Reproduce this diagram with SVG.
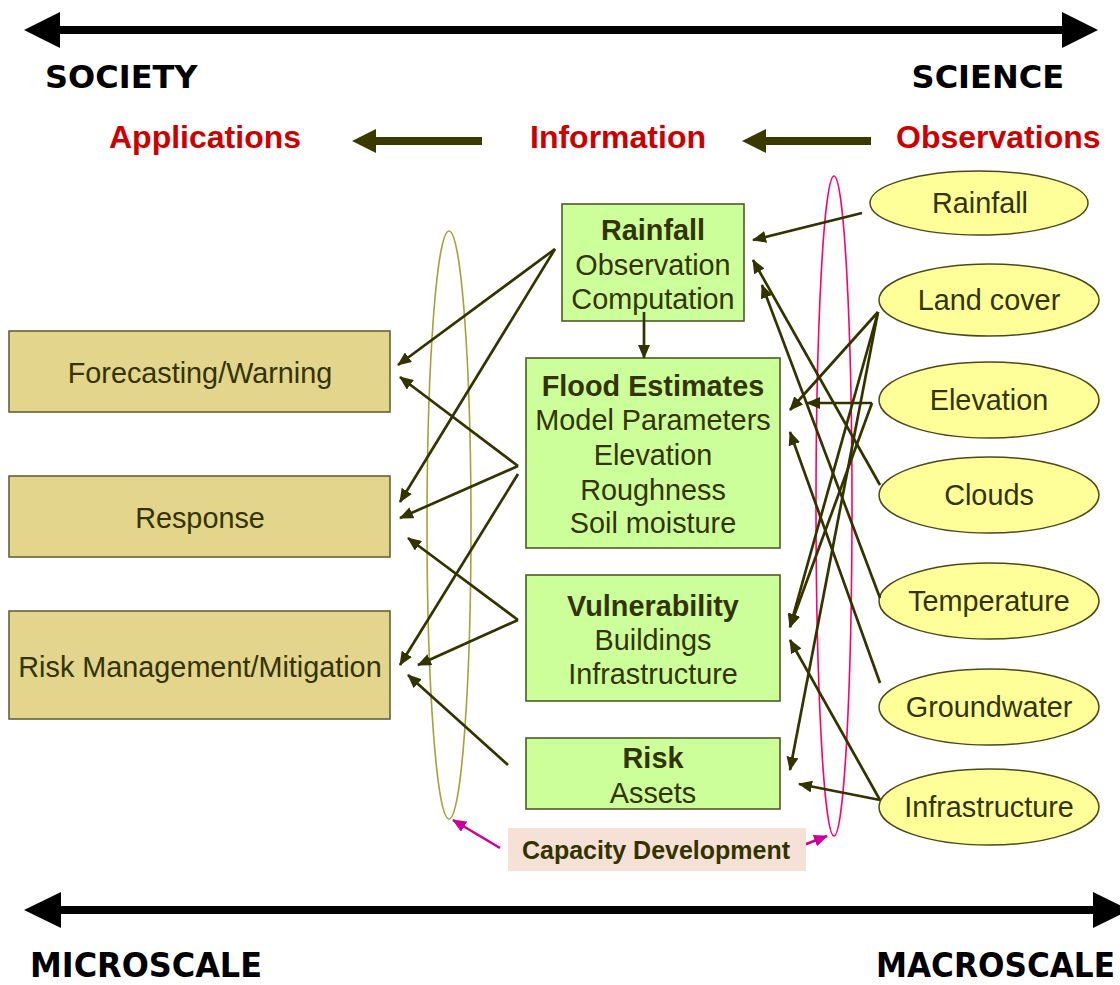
<svg xmlns="http://www.w3.org/2000/svg" width="1120" height="985" viewBox="0 0 1120 985">
  <style>
    .axis { font-family: "DejaVu Sans", Verdana, sans-serif; font-weight: bold; font-size: 32px; fill: #000; }
    .scale { font-family: "DejaVu Sans Condensed", "DejaVu Sans", sans-serif; font-weight: bold; font-size: 33px; fill: #000; }
    .head { font-family: "Liberation Sans", Arial, sans-serif; font-weight: bold; font-size: 32px; fill: #cc0000; }
    .lbl { font-family: "Liberation Sans", Arial, sans-serif; font-size: 28.8px; fill: #333300; text-anchor: middle; }
    .lbl .b { font-weight: bold; }
    .app { fill: #e3d58b; stroke: #5a5a2e; stroke-width: 1.5; }
    .info { fill: #ccff99; stroke: #4f5a26; stroke-width: 1.6; }
    .obs { fill: #ffff99; stroke: #4a4a1a; stroke-width: 1.5; }
    .conn line { stroke: #333300; stroke-width: 2.7; marker-end: url(#ah); }
    .cap { font-family: "Liberation Sans", Arial, sans-serif; font-weight: bold; font-size: 25px; fill: #333300; text-anchor: middle; }
  </style>
  <defs>
    <marker id="ah" markerUnits="userSpaceOnUse" markerWidth="14" markerHeight="12" refX="13" refY="6" orient="auto">
      <path d="M0,0 L14,6 L0,12 z" fill="#333300"/>
    </marker>
    <marker id="ahp" markerUnits="userSpaceOnUse" markerWidth="14" markerHeight="12" refX="13" refY="6" orient="auto">
      <path d="M0,0 L14,6 L0,12 z" fill="#cc0099"/>
    </marker>
  </defs>
  <rect width="1120" height="985" fill="#fff"/>

  <!-- society / science axis -->
  <g id="axis-top">
    <line x1="55" y1="30" x2="1068" y2="30" stroke="#000" stroke-width="8"/>
    <polygon points="24,30 60,12 60,48" fill="#000"/>
    <polygon points="1098,30 1062,12 1062,48" fill="#000"/>
    <text class="axis" x="45" y="88">SOCIETY</text>
    <text class="axis" x="1064" y="88" text-anchor="end">SCIENCE</text>
  </g>

  <!-- flow headers -->
  <g id="flow-header">
    <text class="head" x="109" y="148">Applications</text>
    <text class="head" x="530" y="148">Information</text>
    <text class="head" x="896" y="148">Observations</text>
    <line x1="372" y1="141" x2="482" y2="141" stroke="#3a3a00" stroke-width="8"/>
    <polygon points="352,141 376,129 376,153" fill="#3a3a00"/>
    <line x1="762" y1="141" x2="871" y2="141" stroke="#3a3a00" stroke-width="8"/>
    <polygon points="742,141 766,129 766,153" fill="#3a3a00"/>
  </g>

  <!-- grouping ellipses -->
  <ellipse id="app-ring" cx="449" cy="525" rx="22" ry="294" fill="none" stroke="#a3a33a" stroke-width="1.6"/>
  <ellipse id="obs-ring" cx="834" cy="506" rx="18" ry="330" fill="none" stroke="#ff0066" stroke-width="1.6"/>

  <!-- applications -->
  <g id="forecasting">
    <rect class="app" x="9" y="331" width="381" height="81"/>
    <text class="lbl" x="200" y="383">Forecasting/Warning</text>
  </g>
  <g id="response">
    <rect class="app" x="9" y="476" width="381" height="81"/>
    <text class="lbl" x="200" y="528">Response</text>
  </g>
  <g id="risk-management">
    <rect class="app" x="9" y="611" width="381" height="108"/>
    <text class="lbl" x="200" y="677">Risk Management/Mitigation</text>
  </g>

  <!-- information -->
  <g id="rainfall-info">
    <rect class="info" x="562" y="204" width="182" height="117"/>
    <text class="lbl" x="653" y="240"><tspan class="b">Rainfall</tspan></text>
    <text class="lbl" x="653" y="275">Observation</text>
    <text class="lbl" x="653" y="309">Computation</text>
  </g>
  <g id="flood-estimates">
    <rect class="info" x="526" y="358" width="254" height="190"/>
    <text class="lbl" x="653" y="396"><tspan class="b">Flood Estimates</tspan></text>
    <text class="lbl" x="653" y="430">Model Parameters</text>
    <text class="lbl" x="653" y="465">Elevation</text>
    <text class="lbl" x="653" y="500">Roughness</text>
    <text class="lbl" x="653" y="533">Soil moisture</text>
  </g>
  <g id="vulnerability">
    <rect class="info" x="526" y="575" width="254" height="126"/>
    <text class="lbl" x="653" y="616"><tspan class="b">Vulnerability</tspan></text>
    <text class="lbl" x="653" y="650">Buildings</text>
    <text class="lbl" x="653" y="684">Infrastructure</text>
  </g>
  <g id="risk">
    <rect class="info" x="526" y="738" width="254" height="71"/>
    <text class="lbl" x="653" y="768"><tspan class="b">Risk</tspan></text>
    <text class="lbl" x="653" y="803">Assets</text>
  </g>

  <!-- observations -->
  <g id="obs-rainfall">
    <ellipse class="obs" cx="979" cy="203" rx="109" ry="32"/>
    <text class="lbl" x="980" y="213">Rainfall</text>
  </g>
  <g id="obs-landcover">
    <ellipse class="obs" cx="989" cy="300" rx="110" ry="36"/>
    <text class="lbl" x="989" y="310">Land cover</text>
  </g>
  <g id="obs-elevation">
    <ellipse class="obs" cx="989" cy="400" rx="110" ry="38"/>
    <text class="lbl" x="989" y="410">Elevation</text>
  </g>
  <g id="obs-clouds">
    <ellipse class="obs" cx="989" cy="495" rx="110" ry="38"/>
    <text class="lbl" x="989" y="505">Clouds</text>
  </g>
  <g id="obs-temperature">
    <ellipse class="obs" cx="989" cy="601" rx="110" ry="38"/>
    <text class="lbl" x="989" y="611">Temperature</text>
  </g>
  <g id="obs-groundwater">
    <ellipse class="obs" cx="989" cy="707" rx="110" ry="38"/>
    <text class="lbl" x="989" y="717">Groundwater</text>
  </g>
  <g id="obs-infrastructure">
    <ellipse class="obs" cx="989" cy="807" rx="110" ry="38"/>
    <text class="lbl" x="989" y="817">Infrastructure</text>
  </g>

  <!-- connectors -->
  <g id="connectors" class="conn">
    <!-- information to applications -->
    <line x1="555" y1="249" x2="398" y2="365"/>
    <line x1="555" y1="249" x2="400" y2="502"/>
    <line x1="518" y1="466" x2="400" y2="377"/>
    <line x1="518" y1="466" x2="400" y2="518"/>
    <line x1="518" y1="474" x2="400" y2="665"/>
    <line x1="518" y1="620" x2="408" y2="538"/>
    <line x1="518" y1="620" x2="418" y2="665"/>
    <line x1="508" y1="765" x2="408" y2="675"/>
    <!-- rainfall feeds flood estimates -->
    <line x1="644" y1="312" x2="644" y2="358"/>
    <!-- observations to information -->
    <line x1="862" y1="213" x2="753" y2="240"/>
    <line x1="880" y1="485" x2="753" y2="260"/>
    <line x1="880" y1="598" x2="762" y2="285"/>
    <line x1="878" y1="312" x2="790" y2="410"/>
    <line x1="872" y1="403" x2="807" y2="403"/>
    <line x1="880" y1="683" x2="790" y2="432"/>
    <line x1="878" y1="312" x2="790" y2="627"/>
    <line x1="872" y1="403" x2="790" y2="627"/>
    <line x1="878" y1="312" x2="790" y2="770"/>
    <line x1="880" y1="800" x2="790" y2="640"/>
    <line x1="880" y1="800" x2="799" y2="784"/>
    <!-- capacity development pointers -->
    <line x1="500" y1="848" x2="453" y2="820" style="stroke:#cc0099;stroke-width:2.6;marker-end:url(#ahp)"/>
    <line x1="796" y1="848" x2="827" y2="836" style="stroke:#cc0099;stroke-width:2.6;marker-end:url(#ahp)"/>
  </g>

  <g id="capacity-development">
    <rect x="508" y="828" width="298" height="43" fill="#f5e1d6"/>
    <text class="cap" x="656" y="859">Capacity Development</text>
  </g>

  <!-- micro / macro scale axis -->
  <g id="axis-bottom">
    <line x1="55" y1="910" x2="1100" y2="910" stroke="#000" stroke-width="8"/>
    <polygon points="24,910 61,892 61,928" fill="#000"/>
    <polygon points="1130,910 1093,892 1093,928" fill="#000"/>
    <text class="scale" x="30" y="977" textLength="232" lengthAdjust="spacingAndGlyphs">MICROSCALE</text>
    <text class="scale" x="876" y="977" textLength="239" lengthAdjust="spacingAndGlyphs">MACROSCALE</text>
  </g>
</svg>
